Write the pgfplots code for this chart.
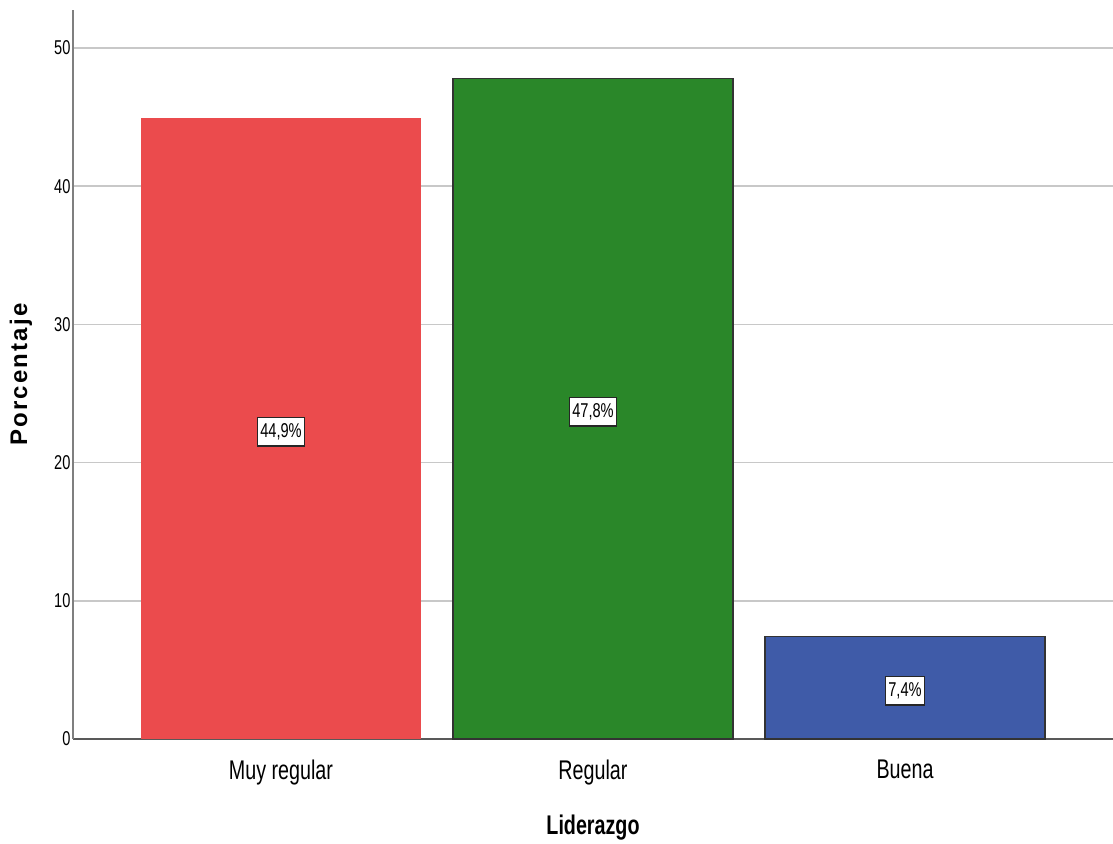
\documentclass[border=0pt]{standalone}
\usepackage{pgfplots}
\pgfplotsset{compat=1.18}
\usepackage{fontspec}
\setmainfont{Liberation Sans}[FakeStretch=0.73]
\newfontfamily\wideboldfont{Liberation Sans}[LetterSpace=9,BoldFont={Liberation Sans Bold}]
\definecolor{cred}{HTML}{EB4B4D}
\definecolor{cgreen}{HTML}{2A8729}
\definecolor{cblue}{HTML}{3F5BA8}
\definecolor{gridc}{HTML}{C8C8C8}
\definecolor{axc}{HTML}{7F7F7F}
\begin{document}
\begin{tikzpicture}
\begin{axis}[
  at={(0,0)}, anchor=south west,
  scale only axis,
  width=1040pt, height=729pt,
  xmin=-0.6667, xmax=2.6667,
  ymin=0, ymax=52.75,
  axis x line*=bottom, axis y line*=left,
  axis line style={axc, line width=1.2pt, -},
  x axis line style={black!65},
  xtick={0,1,2},
  xticklabels={Muy regular, Regular, Buena},
  ytick={0,10,20,30,40,50},
  major tick length=0pt,
  ymajorgrids,
  grid style={gridc, line width=1.6pt},
  /pgf/number format/assume math mode=true,
  xticklabel style={font=\fontsize{27}{30}\selectfont, yshift=-17pt},
  yticklabel style={font=\fontsize{20}{24}\selectfont, xshift=1pt},
  xlabel={\textbf{Liderazgo}},
  ylabel={{\wideboldfont\bfseries Porcentaje}},
  xlabel style={at={(axis description cs:0.5,0)}, anchor=center, yshift=-89pt, font=\fontsize{27}{30}\selectfont},
  ylabel style={at={(axis description cs:0,0.5)}, anchor=center, yshift=52pt, xshift=0pt, font=\fontsize{24}{28}\selectfont},
  ybar, bar width=280pt, bar shift=0pt,
]
\addplot[fill=cred, draw=none] coordinates {(0,44.9)};
\addplot[fill=cgreen, draw=black!80, line width=1.4pt] coordinates {(1,47.8)};
\addplot[fill=cblue, draw=black!80, line width=1.4pt] coordinates {(2,7.4)};
\addplot[draw=none, mark=none, point meta=explicit symbolic,
  nodes near coords,
  every node near coord/.style={anchor=center, fill=white, draw=black!85, line width=1.2pt, inner xsep=3pt, inner ysep=6pt, yshift=-3pt, font=\fontsize{20}{23}\selectfont}]
  coordinates {(0,22.45) [44,9\%] (1,23.9) [47,8\%] (2,3.7) [7,4\%]};
\end{axis}
\pgfresetboundingbox
\path (-73pt,-104pt) rectangle (1040pt,739pt);
\end{tikzpicture}
\end{document}
